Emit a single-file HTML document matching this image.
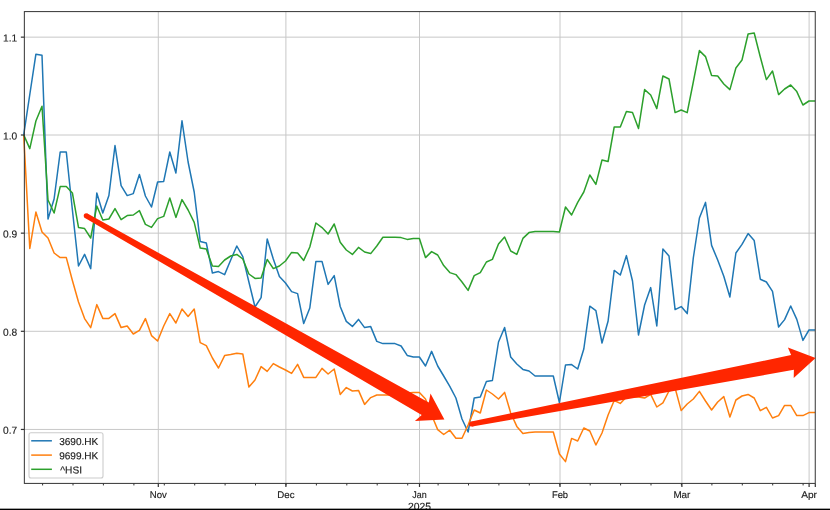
<!DOCTYPE html><html><head><meta charset="utf-8"><style>html,body{margin:0;padding:0;background:#fff;}body{width:830px;height:510px;overflow:hidden;font-family:"Liberation Sans",sans-serif;}svg{display:block}text{font-family:"Liberation Sans",sans-serif;font-size:10px;fill:#1a1a1a;stroke:#1a1a1a;stroke-width:0.15px}</style></head><body>
<svg width="830" height="510" viewBox="0 0 830 510">
<rect width="830" height="510" fill="#fff"/>
<g style="filter:blur(0.35px)">
<line x1="158.3" y1="11.6" x2="158.3" y2="483.45" stroke="#c8c8c8" stroke-width="1.0"/>
<line x1="285.9" y1="11.6" x2="285.9" y2="483.45" stroke="#c8c8c8" stroke-width="1.0"/>
<line x1="419.5" y1="11.6" x2="419.5" y2="483.45" stroke="#c8c8c8" stroke-width="1.0"/>
<line x1="560.0" y1="11.6" x2="560.0" y2="483.45" stroke="#c8c8c8" stroke-width="1.0"/>
<line x1="681.9" y1="11.6" x2="681.9" y2="483.45" stroke="#c8c8c8" stroke-width="1.0"/>
<line x1="809.1" y1="11.6" x2="809.1" y2="483.45" stroke="#c8c8c8" stroke-width="1.0"/>
<line x1="24.35" y1="37.15" x2="815.3" y2="37.15" stroke="#c8c8c8" stroke-width="1.0"/>
<line x1="24.35" y1="135.0" x2="815.3" y2="135.0" stroke="#c8c8c8" stroke-width="1.0"/>
<line x1="24.35" y1="233.15" x2="815.3" y2="233.15" stroke="#c8c8c8" stroke-width="1.0"/>
<line x1="24.35" y1="331.3" x2="815.3" y2="331.3" stroke="#c8c8c8" stroke-width="1.0"/>
<line x1="24.35" y1="429.45" x2="815.3" y2="429.45" stroke="#c8c8c8" stroke-width="1.0"/>
<polyline fill="none" stroke="#1f77b4" stroke-width="1.5" stroke-linejoin="round" stroke-linecap="butt" points="23.7,134.9 29.8,94.5 35.9,54.2 42.0,55.2 48.0,219.0 54.1,199.0 60.2,152.0 66.3,152.0 72.4,210.0 78.5,266.0 84.6,254.4 90.7,268.6 96.8,193.0 102.8,213.0 108.9,195.5 115.0,145.5 121.1,185.6 127.2,195.6 133.3,193.6 139.4,174.4 145.4,196.0 151.5,207.0 157.6,182.0 163.7,181.4 169.8,152.0 175.9,173.0 182.0,120.8 188.1,162.0 194.2,192.0 200.2,241.4 206.3,243.0 212.4,273.0 218.5,271.6 224.6,274.6 230.7,260.0 236.8,246.0 242.8,256.6 248.9,282.0 255.0,307.0 261.1,297.6 267.2,239.0 273.3,259.0 279.4,276.4 285.5,283.0 291.6,291.6 297.6,293.6 303.7,323.6 309.8,308.0 315.9,261.4 322.0,261.4 328.1,284.4 334.2,275.6 340.2,306.5 346.3,321.4 352.4,326.4 358.5,319.4 364.6,327.6 370.7,326.6 376.8,341.4 382.9,343.6 388.9,343.6 395.0,343.6 401.1,346.0 407.2,355.4 413.3,357.0 419.4,357.0 425.5,366.0 431.6,351.4 437.7,366.0 443.7,376.0 449.8,386.4 455.9,398.0 462.0,419.0 468.1,432.0 474.2,398.0 480.3,397.0 486.4,381.4 492.4,380.5 498.5,342.0 504.6,327.5 510.7,357.0 516.8,364.0 522.9,369.4 529.0,371.0 535.1,376.0 541.1,376.0 547.2,376.0 553.3,376.0 559.4,402.5 565.5,365.0 571.6,364.6 577.7,369.0 583.8,349.0 589.8,306.2 595.9,310.7 602.0,343.0 608.1,321.0 614.2,270.4 620.3,275.0 626.4,255.6 632.5,281.0 638.5,335.0 644.6,305.0 650.7,287.6 656.8,326.0 662.9,249.0 669.0,256.0 675.1,309.6 681.2,306.6 687.2,313.6 693.3,258.0 699.4,218.0 705.5,202.4 711.6,245.4 717.7,260.0 723.8,276.2 729.9,297.0 735.9,253.0 742.0,244.4 748.1,233.6 754.2,240.6 760.3,279.2 766.4,282.0 772.5,291.4 778.6,327.0 784.6,319.6 790.7,306.0 796.8,319.4 802.9,340.4 809.0,330.0 815.1,330.0"/>
<polyline fill="none" stroke="#ff7f0e" stroke-width="1.5" stroke-linejoin="round" stroke-linecap="butt" points="23.7,134.9 29.8,248.4 35.9,212.0 42.0,232.0 48.0,238.0 54.1,253.0 60.2,257.6 66.3,257.6 72.4,280.5 78.5,302.0 84.6,318.6 90.7,327.6 96.8,304.6 102.8,318.4 108.9,318.4 115.0,313.6 121.1,327.6 127.2,326.0 133.3,334.0 139.4,330.4 145.4,318.6 151.5,335.6 157.6,341.0 163.7,326.0 169.8,313.6 175.9,323.0 182.0,309.0 188.1,316.4 194.2,309.0 200.2,342.6 206.3,345.6 212.4,358.0 218.5,368.0 224.6,355.6 230.7,354.6 236.8,353.2 242.8,354.0 248.9,387.0 255.0,380.0 261.1,366.6 267.2,371.4 273.3,363.6 279.4,367.0 285.5,370.0 291.6,373.4 297.6,364.4 303.7,377.4 309.8,377.4 315.9,377.4 322.0,368.4 328.1,374.0 334.2,369.0 340.2,394.4 346.3,387.6 352.4,391.0 358.5,390.4 364.6,404.4 370.7,397.6 376.8,395.0 382.9,395.0 388.9,395.0 395.0,395.0 401.1,395.0 407.2,393.0 413.3,392.4 419.4,392.4 425.5,399.0 431.6,415.0 437.7,429.6 443.7,434.5 449.8,430.2 455.9,438.2 462.0,438.2 468.1,425.0 474.2,410.0 480.3,413.0 486.4,390.0 492.4,394.0 498.5,399.0 504.6,392.4 510.7,413.0 516.8,426.4 522.9,433.6 529.0,432.6 535.1,432.0 541.1,432.0 547.2,432.0 553.3,432.0 559.4,454.0 565.5,461.6 571.6,438.4 577.7,441.0 583.8,428.0 589.8,431.0 595.9,445.0 602.0,433.0 608.1,415.0 614.2,400.5 620.3,403.4 626.4,397.0 632.5,397.0 638.5,397.0 644.6,398.0 650.7,394.4 656.8,407.0 662.9,402.8 669.0,391.0 675.1,388.0 681.2,410.6 687.2,404.0 693.3,399.0 699.4,391.4 705.5,401.0 711.6,410.0 717.7,402.0 723.8,396.6 729.9,417.0 735.9,400.0 742.0,396.0 748.1,394.4 754.2,398.0 760.3,410.6 766.4,407.4 772.5,418.0 778.6,415.6 784.6,405.4 790.7,405.4 796.8,415.6 802.9,415.6 809.0,412.6 815.1,412.4"/>
<polyline fill="none" stroke="#2ca02c" stroke-width="1.5" stroke-linejoin="round" stroke-linecap="butt" points="23.7,134.9 29.8,148.6 35.9,121.0 42.0,106.2 48.0,200.0 54.1,213.0 60.2,186.6 66.3,186.6 72.4,193.0 78.5,227.4 84.6,228.6 90.7,238.0 96.8,206.0 102.8,220.0 108.9,219.0 115.0,208.6 121.1,219.6 127.2,215.6 133.3,215.0 139.4,210.6 145.4,224.4 151.5,227.4 157.6,218.6 163.7,216.4 169.8,198.0 175.9,217.4 182.0,199.6 188.1,210.0 194.2,222.4 200.2,248.0 206.3,249.0 212.4,266.0 218.5,266.4 224.6,260.0 230.7,256.0 236.8,254.4 242.8,259.0 248.9,274.0 255.0,278.4 261.1,278.0 267.2,259.4 273.3,268.6 279.4,266.0 285.5,261.0 291.6,252.4 297.6,253.0 303.7,260.4 309.8,247.0 315.9,223.0 322.0,227.6 328.1,234.0 334.2,224.0 340.2,242.2 346.3,250.0 352.4,254.4 358.5,247.4 364.6,252.0 370.7,253.6 376.8,246.0 382.9,237.2 388.9,237.2 395.0,237.2 401.1,237.6 407.2,239.4 413.3,238.6 419.4,238.6 425.5,257.6 431.6,251.6 437.7,255.0 443.7,265.6 449.8,272.6 455.9,274.6 462.0,282.0 468.1,290.4 474.2,275.6 480.3,272.6 486.4,262.0 492.4,259.4 498.5,244.0 504.6,237.0 510.7,251.0 516.8,254.4 522.9,238.4 529.0,232.6 535.1,231.6 541.1,231.6 547.2,231.6 553.3,231.6 559.4,232.0 565.5,207.0 571.6,215.0 577.7,202.4 583.8,192.0 589.8,175.0 595.9,184.4 602.0,160.0 608.1,161.5 614.2,127.0 620.3,127.0 626.4,111.4 632.5,112.6 638.5,128.6 644.6,89.6 650.7,95.0 656.8,108.6 662.9,76.0 669.0,79.0 675.1,112.6 681.2,110.0 687.2,112.6 693.3,82.0 699.4,50.6 705.5,56.6 711.6,75.6 717.7,76.0 723.8,84.0 729.9,89.6 735.9,68.0 742.0,60.0 748.1,34.0 754.2,33.0 760.3,57.0 766.4,79.6 772.5,71.0 778.6,94.6 784.6,89.0 790.7,85.0 796.8,91.6 802.9,105.0 809.0,101.0 815.1,101.0"/>
<rect x="24.35" y="11.6" width="790.9" height="471.8" fill="none" stroke="#333" stroke-width="1"/>
<line x1="20.85" y1="37.15" x2="24.35" y2="37.15" stroke="#333" stroke-width="1.2"/>
<line x1="20.85" y1="135.0" x2="24.35" y2="135.0" stroke="#333" stroke-width="1.2"/>
<line x1="20.85" y1="233.15" x2="24.35" y2="233.15" stroke="#333" stroke-width="1.2"/>
<line x1="20.85" y1="331.3" x2="24.35" y2="331.3" stroke="#333" stroke-width="1.2"/>
<line x1="20.85" y1="429.45" x2="24.35" y2="429.45" stroke="#333" stroke-width="1.2"/>
<line x1="158.3" y1="483.45" x2="158.3" y2="486.95" stroke="#333" stroke-width="1.2"/>
<line x1="285.9" y1="483.45" x2="285.9" y2="486.95" stroke="#333" stroke-width="1.2"/>
<line x1="419.5" y1="483.45" x2="419.5" y2="486.95" stroke="#333" stroke-width="1.2"/>
<line x1="560.0" y1="483.45" x2="560.0" y2="486.95" stroke="#333" stroke-width="1.2"/>
<line x1="681.9" y1="483.45" x2="681.9" y2="486.95" stroke="#333" stroke-width="1.2"/>
<line x1="809.1" y1="483.45" x2="809.1" y2="486.95" stroke="#333" stroke-width="1.2"/>
<line x1="815.3" y1="483.45" x2="815.3" y2="486.95" stroke="#333" stroke-width="1.2"/>
<line x1="42.6" y1="483.45" x2="42.6" y2="485.45" stroke="#333" stroke-width="1"/>
<line x1="73.0" y1="483.45" x2="73.0" y2="485.45" stroke="#333" stroke-width="1"/>
<line x1="103.4" y1="483.45" x2="103.4" y2="485.45" stroke="#333" stroke-width="1"/>
<line x1="133.9" y1="483.45" x2="133.9" y2="485.45" stroke="#333" stroke-width="1"/>
<line x1="164.3" y1="483.45" x2="164.3" y2="485.45" stroke="#333" stroke-width="1"/>
<line x1="194.7" y1="483.45" x2="194.7" y2="485.45" stroke="#333" stroke-width="1"/>
<line x1="225.1" y1="483.45" x2="225.1" y2="485.45" stroke="#333" stroke-width="1"/>
<line x1="255.5" y1="483.45" x2="255.5" y2="485.45" stroke="#333" stroke-width="1"/>
<line x1="286.0" y1="483.45" x2="286.0" y2="485.45" stroke="#333" stroke-width="1"/>
<line x1="316.4" y1="483.45" x2="316.4" y2="485.45" stroke="#333" stroke-width="1"/>
<line x1="346.8" y1="483.45" x2="346.8" y2="485.45" stroke="#333" stroke-width="1"/>
<line x1="377.2" y1="483.45" x2="377.2" y2="485.45" stroke="#333" stroke-width="1"/>
<line x1="407.7" y1="483.45" x2="407.7" y2="485.45" stroke="#333" stroke-width="1"/>
<line x1="438.1" y1="483.45" x2="438.1" y2="485.45" stroke="#333" stroke-width="1"/>
<line x1="468.5" y1="483.45" x2="468.5" y2="485.45" stroke="#333" stroke-width="1"/>
<line x1="498.9" y1="483.45" x2="498.9" y2="485.45" stroke="#333" stroke-width="1"/>
<line x1="529.3" y1="483.45" x2="529.3" y2="485.45" stroke="#333" stroke-width="1"/>
<line x1="559.8" y1="483.45" x2="559.8" y2="485.45" stroke="#333" stroke-width="1"/>
<line x1="590.2" y1="483.45" x2="590.2" y2="485.45" stroke="#333" stroke-width="1"/>
<line x1="620.6" y1="483.45" x2="620.6" y2="485.45" stroke="#333" stroke-width="1"/>
<line x1="651.0" y1="483.45" x2="651.0" y2="485.45" stroke="#333" stroke-width="1"/>
<line x1="681.4" y1="483.45" x2="681.4" y2="485.45" stroke="#333" stroke-width="1"/>
<line x1="711.9" y1="483.45" x2="711.9" y2="485.45" stroke="#333" stroke-width="1"/>
<line x1="742.3" y1="483.45" x2="742.3" y2="485.45" stroke="#333" stroke-width="1"/>
<line x1="772.7" y1="483.45" x2="772.7" y2="485.45" stroke="#333" stroke-width="1"/>
<line x1="803.1" y1="483.45" x2="803.1" y2="485.45" stroke="#333" stroke-width="1"/>
<rect x="29" y="432.8" width="74" height="45.2" rx="2" ry="2" fill="#fff" fill-opacity="0.8" stroke="#cccccc" stroke-width="1.1"/>
<line x1="31.2" y1="440.8" x2="51.9" y2="440.8" stroke="#1f77b4" stroke-width="1.5"/>
<line x1="31.2" y1="455.1" x2="51.9" y2="455.1" stroke="#ff7f0e" stroke-width="1.5"/>
<line x1="31.2" y1="469.3" x2="51.9" y2="469.3" stroke="#2ca02c" stroke-width="1.5"/>
<g>
<text x="17.2" y="41.5" transform="rotate(0.05 17.2 41.5)" text-anchor="end" style="font-size:10.2px">1.1</text>
<text x="17.2" y="139.4" transform="rotate(0.05 17.2 139.4)" text-anchor="end" style="font-size:10.2px">1.0</text>
<text x="17.2" y="237.6" transform="rotate(0.05 17.2 237.6)" text-anchor="end" style="font-size:10.2px">0.9</text>
<text x="17.2" y="335.7" transform="rotate(0.05 17.2 335.7)" text-anchor="end" style="font-size:10.2px">0.8</text>
<text x="17.2" y="433.8" transform="rotate(0.05 17.2 433.8)" text-anchor="end" style="font-size:10.2px">0.7</text>
<text x="149.8" y="498.0" transform="rotate(0.05 158.3 498)" textLength="17.0" lengthAdjust="spacingAndGlyphs" style="font-size:9.7px">Nov</text>
<text x="277.3" y="498.0" transform="rotate(0.05 285.9 498)" textLength="17.2" lengthAdjust="spacingAndGlyphs" style="font-size:9.7px">Dec</text>
<text x="412.3" y="498.0" transform="rotate(0.05 419.5 498)" textLength="14.4" lengthAdjust="spacingAndGlyphs" style="font-size:9.7px">Jan</text>
<text x="551.9" y="498.0" transform="rotate(0.05 560.0 498)" textLength="16.2" lengthAdjust="spacingAndGlyphs" style="font-size:9.7px">Feb</text>
<text x="673.4" y="498.0" transform="rotate(0.05 681.9 498)" textLength="17.0" lengthAdjust="spacingAndGlyphs" style="font-size:9.7px">Mar</text>
<text x="801.2" y="498.0" transform="rotate(0.05 809.1 498)" textLength="15.8" lengthAdjust="spacingAndGlyphs" style="font-size:9.7px">Apr</text>
<text x="419.5" y="509.9" transform="rotate(0.05 419.5 509.9)" text-anchor="middle" style="font-size:10.4px">2025</text>
<text x="59.2" y="445.0" transform="rotate(0.05 59.2 445.0)" textLength="39.1" lengthAdjust="spacingAndGlyphs" style="font-size:10.1px">3690.HK</text>
<text x="59.2" y="459.3" transform="rotate(0.05 59.2 459.3)" textLength="39.1" lengthAdjust="spacingAndGlyphs" style="font-size:10.1px">9699.HK</text>
<text x="60.3" y="473.6" transform="rotate(0.05 60.3 473.6)" textLength="21.7" lengthAdjust="spacingAndGlyphs" style="font-size:10.1px">^HSI</text>
</g>
<path d="M87.4,213.5 L428.8,402.4 L430.5,393.4 L444.4,419.5 L414.9,420.9 L421.7,414.9 L85.0,217.9 Z" fill="#ff2600"/><circle cx="86.2" cy="215.7" r="2.50" fill="#ff2600"/>
<path d="M471.3,421.4 L791.1,355.1 L787.9,347.6 L815.6,358.0 L793.7,377.9 L793.9,369.8 L472.3,426.6 Z" fill="#ff2600"/><circle cx="471.8" cy="424.0" r="2.60" fill="#ff2600"/>
</g>
<rect x="0" y="508.65" width="830" height="1.5" fill="#000"/>
</svg></body></html>
